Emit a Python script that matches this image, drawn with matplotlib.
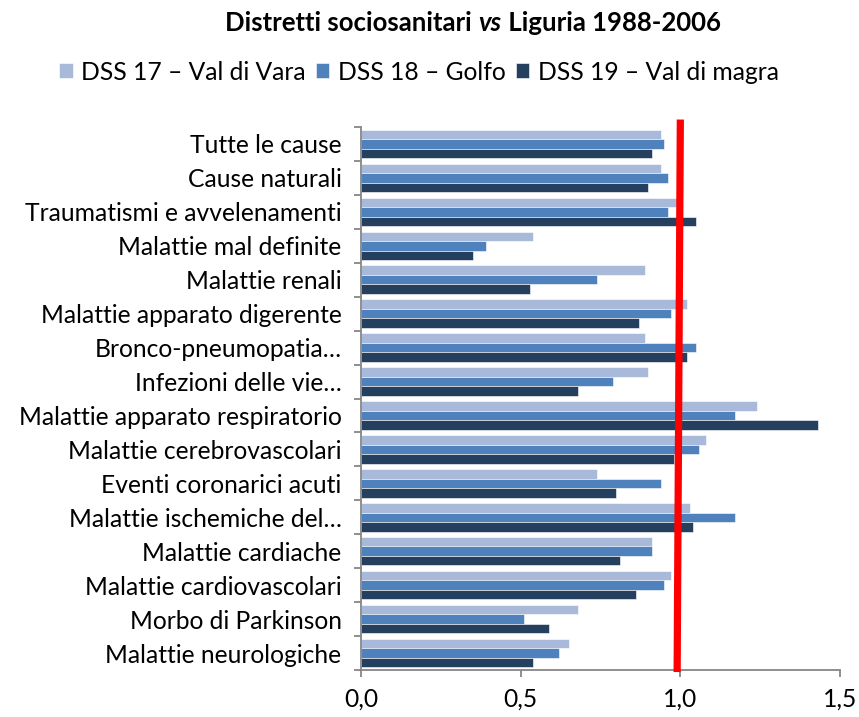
import matplotlib
matplotlib.use("Agg")
import matplotlib.pyplot as plt
import numpy as np
from matplotlib.ticker import FuncFormatter, FixedLocator

categories = [
    "Tutte le cause",
    "Cause naturali",
    "Traumatismi e avvelenamenti",
    "Malattie mal definite",
    "Malattie renali",
    "Malattie apparato digerente",
    "Bronco-pneumopatia…",
    "Infezioni delle vie…",
    "Malattie apparato respiratorio",
    "Malattie cerebrovascolari",
    "Eventi coronarici acuti",
    "Malattie ischemiche del…",
    "Malattie cardiache",
    "Malattie cardiovascolari",
    "Morbo di Parkinson",
    "Malattie neurologiche",
]
series_names = ["DSS 17 – Val di Vara", "DSS 18 – Golfo", "DSS 19 – Val di magra"]
dss17 = [0.94, 0.94, 0.99, 0.54, 0.89, 1.02, 0.89, 0.90, 1.24, 1.08, 0.74, 1.03, 0.91, 0.97, 0.68, 0.65]
dss18 = [0.95, 0.96, 0.96, 0.39, 0.74, 0.97, 1.05, 0.79, 1.17, 1.06, 0.94, 1.17, 0.91, 0.95, 0.51, 0.62]
dss19 = [0.91, 0.90, 1.05, 0.35, 0.53, 0.87, 1.02, 0.68, 1.43, 0.98, 0.80, 1.04, 0.81, 0.86, 0.59, 0.54]
reference_value = 1.0
xticks = [0.0, 0.5, 1.0, 1.5]

colors = ["#A9B9D9", "#4F81BD", "#25405F"]
FONT = "Lato"
plt.rcParams["font.family"] = [FONT, "DejaVu Sans"]
FS = 17.7

fig = plt.figure(figsize=(8.59, 7.17), dpi=100)
ax = fig.add_axes([361 / 859, 1 - 670 / 717, (840 - 361) / 859, (670 - 127) / 717])

n = len(categories)
y = np.arange(n)
h = 0.28
for k, (vals, c, name) in enumerate(zip([dss17, dss18, dss19], colors, series_names)):
    ax.barh(y + (k - 1) * h, vals, height=h, color=c, label=name,
            edgecolor="white", linewidth=0.4, zorder=2)

ax.set_ylim(n - 0.5, -0.5)
ax.set_xlim(0, 1.5)

# red reference line (slightly slanted as in the reference)
ax.plot([reference_value, reference_value - 0.01], [-0.72, n - 0.44],
        color="#FF0000", linewidth=5.2, clip_on=False, zorder=5,
        solid_capstyle="butt")

for s in ["top", "right"]:
    ax.spines[s].set_visible(False)
for s in ["left", "bottom"]:
    ax.spines[s].set_color("#868686")
    ax.spines[s].set_linewidth(1.3)

ax.set_yticks(y)
ax.set_yticklabels(categories, fontsize=FS)
ax.yaxis.set_minor_locator(FixedLocator(np.arange(-0.5, n + 0.5, 1)))
ax.tick_params(axis="y", which="major", length=0, pad=14)
ax.tick_params(axis="y", which="minor", length=5, width=1.3, color="#868686")

ax.set_xticks(xticks)
ax.xaxis.set_major_formatter(FuncFormatter(lambda v, p: f"{v:.1f}".replace(".", ",")))
ax.tick_params(axis="x", which="major", length=5, width=1.3, color="#868686",
               labelsize=FS, pad=8)

# legend
fig.legend(loc="center", bbox_to_anchor=(419 / 859, 1 - 72 / 717), ncol=3,
           frameon=False, fontsize=FS, handlelength=0.55, handleheight=0.55,
           handletextpad=0.35, columnspacing=0.4, borderaxespad=0)

# title with italic "vs"
parts = [("Distretti sociosanitari ", "normal"), ("vs", "italic"), (" Liguria 1988-2006", "normal")]
ty = 1 - 23 / 717
texts = []
for s, st in parts:
    texts.append(fig.text(0, ty, s, fontsize=18.5, fontweight="bold", style=st,
                          va="center", ha="left"))
fig.canvas.draw()
r = fig.canvas.get_renderer()
widths = [t.get_window_extent(r).width for t in texts]
total = sum(widths)
x0 = 473 - total / 2
for t, w in zip(texts, widths):
    t.set_x(x0 / 859)
    x0 += w

fig.savefig("out.png", dpi=100)
